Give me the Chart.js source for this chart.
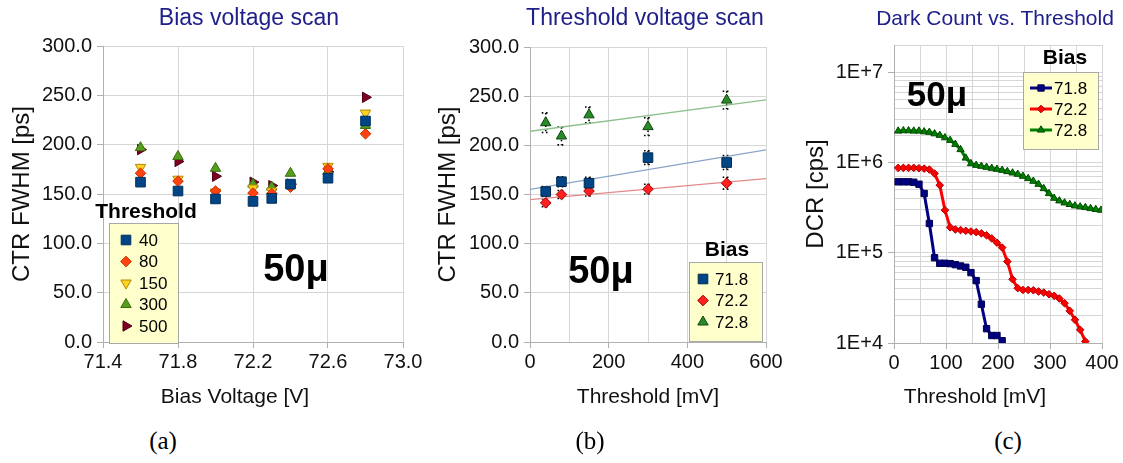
<!DOCTYPE html>
<html lang="en">
<head>
<meta charset="UTF-8" />
<title>SiPM CTR and DCR scans</title>
<style>
  body { margin: 0; background: #fff; font-family: "Liberation Sans", Arial, sans-serif; }
  #page { position: relative; width: 1123px; height: 463px; overflow: hidden; }
  canvas { position: absolute; top: 0; }
  .t { position: absolute; white-space: nowrap; transform: translate(-50%, -50%); line-height: 1; }
  .title { color: #20208a; font-size: 23px; }
  .axt { color: #111; font-size: 21px; }
  .big { font-weight: bold; font-size: 38px; color: #000; }
  .cap { font-family: "Liberation Serif", serif; font-size: 25px; color: #000; }
</style>
</head>
<body>
<div id="page">
  <canvas id="cA" width="430" height="410" style="left:0"></canvas>
  <canvas id="cB" width="380" height="410" style="left:425px"></canvas>
  <canvas id="cC" width="333" height="410" style="left:790px"></canvas>

  <div class="t title" style="left:249px;top:17px">Bias voltage scan</div>
  <div class="t title" style="left:645px;top:17px">Threshold voltage scan</div>
  <div class="t title" style="left:995px;top:17px;font-size:21px">Dark Count vs. Threshold</div>

  <div class="t axt" style="left:235px;top:395px">Bias Voltage [V]</div>
  <div class="t axt" style="left:648px;top:395px">Threshold [mV]</div>
  <div class="t axt" style="left:975px;top:395px">Threshold [mV]</div>

  <div class="t big" style="left:296px;top:268px">50μ</div>
  <div class="t big" style="left:601px;top:270px">50μ</div>
  <div class="t big" style="left:937px;top:93px;font-size:35px">50μ</div>

  <div class="t cap" style="left:163px;top:440px">(a)</div>
  <div class="t cap" style="left:590px;top:440px">(b)</div>
  <div class="t cap" style="left:1008px;top:440px">(c)</div>
</div>
<script src="https://cdn.jsdelivr.net/npm/chart.js@4.4.1/dist/chart.umd.min.js"></script>
<script>
// ---- (a) bias voltage scan, one series per threshold [mV]
const biasV = [71.6, 71.8, 72.0, 72.2, 72.3, 72.4, 72.6, 72.8];
const thrNames = ["40", "80", "150", "300", "500"];
const ctr40  = [162, 153, 145, 142.5, 145.5, 160, 166, 224];
const ctr80  = [171, 163, 153, 151, 150.5, 157, 175.5, 211];
const ctr150 = [177, 165, 152, 156, 153, 158, 178, 232];
const ctr300 = [197, 188, 176, 160, 157, 171, 173, 219.5];
const ctr500 = [195, 183, 168, 162, 158.5, 160, 172.5, 248];

// ---- (b) threshold scan, one series per bias [V]
const biasNames = ["71.8", "72.2", "72.8"];
const thrB = [40, 80, 150, 300, 500];
const ctrB718 = [153, 163, 161.5, 187.5, 182.5];
const ctrB722 = [141.5, 150, 153.5, 155.5, 161.5];
const ctrB728 = [223, 209.5, 231, 219, 246];
const errB718 = [5, 5, 6, 7, 7];
const errB722 = [4, 4, 5, 5, 6];
const errB728 = [10, 9, 8, 9, 9];

// ---- (c) dark count rate [cps] vs threshold [mV]
const thrC = [8, 18, 28, 38, 48, 58, 68, 78, 88, 98, 108, 118, 128, 138, 148, 158, 168, 178, 188, 198,
              208, 218, 228, 238, 248, 258, 268, 278, 288, 298, 308, 318, 328, 338, 348, 358, 368, 378, 388, 398];
const dcr718 = [6.10e5, 6.10e5, 6.10e5, 6.04e5, 5.74e5, 4.53e5, 2.11e5, 8.8e4, 7.64e4, 7.64e4, 7.57e4,
                7.38e4, 7.13e4, 6.90e4, 6.02e4, 4.91e4, 2.69e4, 1.44e4, 1.21e4, 1.21e4, 1.06e4];
const dcr722 = [8.71e5, 8.71e5, 8.71e5, 8.71e5, 8.63e5, 8.55e5, 8.34e5, 7.53e5, 5.60e5, 2.96e5, 1.91e5,
                1.81e5, 1.78e5, 1.75e5, 1.72e5, 1.69e5, 1.64e5, 1.56e5, 1.44e5, 1.29e5, 1.14e5, 7.97e4,
                5.08e4, 4.05e4, 3.87e4, 3.87e4, 3.84e4, 3.72e4, 3.62e4, 3.47e4, 3.33e4, 3.11e4, 2.76e4,
                2.27e4, 1.81e4, 1.40e4, 1.04e4];
const dcr728 = [2.23e6, 2.25e6, 2.25e6, 2.23e6, 2.23e6, 2.19e6, 2.16e6, 2.08e6, 2.00e6, 1.88e6, 1.76e6,
                1.59e6, 1.39e6, 1.12e6, 9.72e5, 9.31e5, 9.08e5, 8.85e5, 8.63e5, 8.41e5, 8.20e5, 7.93e5,
                7.66e5, 7.41e5, 7.04e5, 6.64e5, 6.20e5, 5.74e5, 5.14e5, 4.53e5, 4.02e5, 3.76e5, 3.57e5,
                3.43e5, 3.31e5, 3.23e5, 3.17e5, 3.09e5, 3.02e5, 2.96e5];
const dcrDecades = [1e4, 1e5, 1e6, 1e7];

Chart.defaults.font.family = '"Liberation Sans", Arial, sans-serif';
Chart.defaults.color = "#111";
Chart.defaults.animation = false;
Chart.defaults.events = [];
Chart.defaults.plugins.legend.display = false;
Chart.defaults.plugins.tooltip.enabled = false;

const GRID = "#d6d6d6", AXIS = "#b0b0b0";

function pts(xs, ys) { return ys.map((y, i) => ({ x: xs[i], y: y })); }

// least squares line, like the spreadsheet trend line
function trend(xs, ys, x0, x1) {
  const n = xs.length;
  const mx = xs.reduce((a, b) => a + b) / n, my = ys.reduce((a, b) => a + b) / n;
  let sxy = 0, sxx = 0;
  xs.forEach((x, i) => { sxy += (x - mx) * (ys[i] - my); sxx += (x - mx) * (x - mx); });
  const k = sxy / sxx, b = my - k * mx;
  return [{ x: x0, y: b + k * x0 }, { x: x1, y: b + k * x1 }];
}

function marker(ctx, ds, x, y) {
  ctx.fillStyle = ds.pointBackgroundColor;
  ctx.strokeStyle = ds.pointBorderColor;
  ctx.lineWidth = 1;
  Chart.helpers.drawPoint(ctx, {
    pointStyle: ds.pointStyle, rotation: ds.pointRotation || 0,
    radius: ds.pointRadius, borderWidth: 1
  }, x, y);
}

// yellow legend box with a bold title above it
const boxLegend = {
  id: "boxLegend",
  afterDraw(chart, args, o) {
    const ctx = chart.ctx;
    ctx.save();
    ctx.fillStyle = "#ffffcc";
    ctx.fillRect(o.x, o.y, o.w, o.h);
    ctx.strokeStyle = "#a8a8a8";
    ctx.lineWidth = 1;
    ctx.strokeRect(o.x + 0.5, o.y + 0.5, o.w, o.h);
    ctx.fillStyle = "#000";
    ctx.textBaseline = "middle";
    ctx.textAlign = "center";
    ctx.font = 'bold 21px "Liberation Sans"';
    ctx.fillText(o.title, o.tx, o.ty);
    ctx.font = '17px "Liberation Sans"';
    ctx.textAlign = "left";
    let row = 0;
    chart.data.datasets.forEach(ds => {
      if (ds.inLegend === false) return;
      const y = o.rowY + row * o.rowH;
      if (o.line) {
        ctx.strokeStyle = ds.borderColor;
        ctx.lineWidth = 3;
        ctx.beginPath();
        ctx.moveTo(o.mx - 11, y);
        ctx.lineTo(o.mx + 11, y);
        ctx.stroke();
      }
      marker(ctx, ds, o.mx, y);
      ctx.fillStyle = "#000";
      ctx.fillText(ds.label, o.lx, y + 1);
      row++;
    });
    ctx.restore();
  }
};

// dotted error bars for the threshold scan
const errBars = {
  id: "errBars",
  beforeDatasetsDraw(chart) {
    const ctx = chart.ctx, ys = chart.scales.y;
    chart.data.datasets.forEach((ds, i) => {
      if (!ds.errors) return;
      chart.getDatasetMeta(i).data.forEach((p, j) => {
        const v = ds.data[j].y, e = ds.errors[j];
        const top = ys.getPixelForValue(v + e), bot = ys.getPixelForValue(v - e);
        ctx.save();
        ctx.strokeStyle = "#000";
        ctx.lineWidth = 1.6;
        ctx.setLineDash([1.6, 2.6]);
        ctx.beginPath();
        ctx.moveTo(p.x, top); ctx.lineTo(p.x, bot);
        ctx.moveTo(p.x - 4, top); ctx.lineTo(p.x + 4, top);
        ctx.moveTo(p.x - 4, bot); ctx.lineTo(p.x + 4, bot);
        ctx.stroke();
        ctx.restore();
      });
    });
  }
};

function linAxisY(width, titlePad, min, max, step) {
  return {
    type: "linear", min: min, max: max,
    afterFit(s) { s.width = width; },
    ticks: { stepSize: step, font: { size: 20 }, padding: 5, callback: v => Number(v).toFixed(1) },
    grid: { color: GRID, tickLength: 6, tickColor: AXIS },
    border: { color: AXIS },
    title: { display: true, text: "CTR FWHM [ps]", font: { size: 24 }, padding: { top: titlePad, bottom: 0 } }
  };
}

function scatterSet(label, xs, ys, style, rot, r, fill, edge) {
  return {
    type: "scatter", label: label, data: pts(xs, ys),
    pointStyle: style, pointRotation: rot, pointRadius: r,
    pointBackgroundColor: fill, pointBorderColor: edge, pointBorderWidth: 1
  };
}

// ---------- chart (a)
new Chart(document.getElementById("cA"), {
  type: "scatter",
  data: {
    datasets: [
      scatterSet(thrNames[0], biasV, ctr40, "rect", 0, 6.8, "#004586", "#00305e"),
      scatterSet(thrNames[1], biasV, ctr80, "rectRot", 0, 5.3, "#ff420e", "#c03000"),
      scatterSet(thrNames[2], biasV, ctr150, "triangle", 180, 6, "#ffd320", "#b08a00"),
      scatterSet(thrNames[3], biasV, ctr300, "triangle", 0, 6, "#579d1c", "#3a6c10"),
      scatterSet(thrNames[4], biasV, ctr500, "triangle", 90, 6, "#7e0021", "#500015")
    ]
  },
  options: {
    responsive: false,
    layout: { padding: { left: 0, right: 27, top: 46, bottom: 0 } },
    scales: {
      x: {
        type: "linear", min: 71.4, max: 73.0,
        afterFit(s) { s.height = 68; },
        ticks: { stepSize: 0.4, font: { size: 20 }, padding: 2, maxRotation: 0,
                 callback: v => Number(v).toFixed(1) },
        grid: { color: GRID, tickLength: 6, tickColor: AXIS },
        border: { color: AXIS }
      },
      y: linAxisY(103, 8, 0, 300, 50)
    },
    plugins: {
      boxLegend: { title: "Threshold", tx: 146, ty: 212, x: 109, y: 223, w: 69, h: 120,
                   rowY: 240, rowH: 21.5, mx: 126, lx: 139 }
    }
  },
  plugins: [boxLegend]
});

// ---------- chart (b)
const bSets = [
  Object.assign(scatterSet(biasNames[0], thrB, ctrB718, "rect", 0, 6.8, "#004586", "#00284d"), { errors: errB718 }),
  Object.assign(scatterSet(biasNames[1], thrB, ctrB722, "rectRot", 0, 5.3, "#ff2020", "#a00000"), { errors: errB722 }),
  Object.assign(scatterSet(biasNames[2], thrB, ctrB728, "triangle", 0, 6, "#2a8a2a", "#0e4a0e"), { errors: errB728 })
];
const trendColors = ["#86a6c6", "#e48a8a", "#8cc08c"];
[ctrB718, ctrB722, ctrB728].forEach((ys, i) => {
  bSets.push({
    type: "line", label: "trend " + biasNames[i], inLegend: false, order: 5,
    data: trend(thrB, ys, 0, 600),
    borderColor: trendColors[i], borderWidth: 1.3, pointRadius: 0, fill: false
  });
});

new Chart(document.getElementById("cB"), {
  type: "scatter",
  data: { datasets: bSets },
  options: {
    responsive: false,
    layout: { padding: { left: 0, right: 39, top: 47, bottom: 0 } },
    scales: {
      x: {
        type: "linear", min: 0, max: 600,
        afterFit(s) { s.height = 68; },
        ticks: { stepSize: 100, font: { size: 20 }, padding: 2, maxRotation: 0, autoSkip: false,
                 callback: v => (v % 200 === 0 ? v : "") },
        grid: { color: GRID, tickLength: 6,
                tickColor: c => (c.tick && c.tick.value % 200 === 0 ? AXIS : "rgba(0,0,0,0)") },
        border: { color: AXIS }
      },
      y: linAxisY(105, 9, 0, 300, 50)
    },
    plugins: {
      boxLegend: { title: "Bias", tx: 302, ty: 250, x: 264, y: 262, w: 73, h: 79,
                   rowY: 279, rowH: 21.5, mx: 278, lx: 290 }
    }
  },
  plugins: [errBars, boxLegend]
});

// ---------- chart (c)
function dcrSet(label, ys, style, r, line, fill, edge) {
  return {
    type: "line", label: label, data: pts(thrC, ys),
    borderColor: line, borderWidth: 3, tension: 0, fill: false,
    pointStyle: style, pointRadius: r, pointBackgroundColor: fill,
    pointBorderColor: edge, pointBorderWidth: 1
  };
}

function isDecade(v) {
  const l = Math.log10(v);
  return Math.abs(l - Math.round(l)) < 1e-9;
}

new Chart(document.getElementById("cC"), {
  type: "line",
  data: {
    datasets: [
      dcrSet(biasNames[0], dcr718, "rect", 4.5, "#000080", "#000080", "#000050"),
      dcrSet(biasNames[1], dcr722, "rectRot", 3.8, "#ff0000", "#ff0000", "#b00000"),
      dcrSet(biasNames[2], dcr728, "triangle", 4.2, "#008000", "#008000", "#004a00")
    ]
  },
  options: {
    responsive: false,
    layout: { padding: { left: 0, right: 21, top: 45, bottom: 0 } },
    scales: {
      x: {
        type: "linear", min: 0, max: 400,
        afterFit(s) { s.height = 67; },
        ticks: { stepSize: 50, font: { size: 20 }, padding: 2, maxRotation: 0, autoSkip: false,
                 callback: v => (v % 100 === 0 ? v : "") },
        grid: { color: GRID, tickLength: 6,
                tickColor: c => (c.tick && c.tick.value % 100 === 0 ? AXIS : "rgba(0,0,0,0)") },
        border: { color: AXIS }
      },
      y: {
        type: "logarithmic", min: 1e4, max: 2e7,
        afterFit(s) { s.width = 104; },
        afterBuildTicks(s) {
          const t = [];
          dcrDecades.forEach(d => { for (let m = 1; m < 10; m++) if (m * d <= 2e7) t.push({ value: m * d }); });
          t.push({ value: 2e7 });
          s.ticks = t;
        },
        ticks: { font: { size: 20 }, padding: 5, autoSkip: false,
                 callback: v => (isDecade(v) ? "1E+" + Math.round(Math.log10(v)) : "") },
        grid: { color: GRID, tickLength: 6,
                tickColor: c => (c.tick && isDecade(c.tick.value) ? AXIS : "rgba(0,0,0,0)") },
        border: { color: AXIS },
        title: { display: true, text: "DCR [cps]", font: { size: 24 }, padding: { top: 12, bottom: 0 } }
      }
    },
    plugins: {
      boxLegend: { title: "Bias", tx: 275, ty: 58, x: 233, y: 72, w: 75, h: 77,
                   rowY: 88, rowH: 21, mx: 251, lx: 264, line: true }
    }
  },
  plugins: [boxLegend]
});
</script>
</body>
</html>
